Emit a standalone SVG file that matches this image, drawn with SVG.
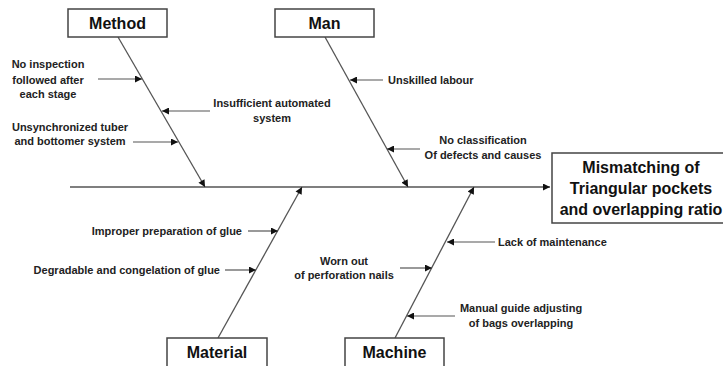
<svg xmlns="http://www.w3.org/2000/svg" width="723" height="366" viewBox="0 0 723 366">
<style>
.box{fill:#fff;stroke:#444;stroke-width:1.5}
.title{font-family:"Liberation Sans",Arial,sans-serif;font-weight:bold;font-size:16px;fill:#111;text-anchor:middle}
.effect{font-family:"Liberation Sans",Arial,sans-serif;font-weight:bold;font-size:16px;fill:#111;text-anchor:middle}
.lbl{font-family:"Liberation Sans",Arial,sans-serif;font-weight:bold;font-size:11px;fill:#222}
.c{text-anchor:middle}
.e{text-anchor:end}
.bone{stroke:#555;stroke-width:1.3;fill:none}
.arr{stroke:#555;stroke-width:1.2;fill:none}
</style>
<defs>
<marker id="ah" viewBox="0 0 10 10" refX="10" refY="5" markerWidth="8" markerHeight="7" orient="auto" markerUnits="userSpaceOnUse">
<path d="M0,0 L10,5 L0,10 z" fill="#111"/>
</marker>
</defs>
<rect width="723" height="366" fill="#fff"/>
<g id="connectors">
<line class="bone" x1="70" y1="187" x2="550" y2="187" marker-end="url(#ah)"/>
<line class="bone" x1="118" y1="37" x2="205" y2="187" marker-end="url(#ah)"/>
<line class="bone" x1="325" y1="37" x2="408" y2="187" marker-end="url(#ah)"/>
<line class="bone" x1="218" y1="338" x2="302" y2="187" marker-end="url(#ah)"/>
<line class="bone" x1="395" y1="338" x2="474" y2="187" marker-end="url(#ah)"/>
<line class="arr" x1="98" y1="79" x2="142" y2="79" marker-end="url(#ah)"/>
<line class="arr" x1="210" y1="111" x2="162" y2="111" marker-end="url(#ah)"/>
<line class="arr" x1="133" y1="142" x2="178" y2="142" marker-end="url(#ah)"/>
<line class="arr" x1="383" y1="80" x2="350" y2="80" marker-end="url(#ah)"/>
<line class="arr" x1="420" y1="149" x2="387" y2="149" marker-end="url(#ah)"/>
<line class="arr" x1="248" y1="231" x2="278" y2="231" marker-end="url(#ah)"/>
<line class="arr" x1="225" y1="270" x2="256" y2="270" marker-end="url(#ah)"/>
<line class="arr" x1="495" y1="242" x2="447" y2="242" marker-end="url(#ah)"/>
<line class="arr" x1="400" y1="268" x2="432" y2="268" marker-end="url(#ah)"/>
<line class="arr" x1="455" y1="316" x2="407" y2="316" marker-end="url(#ah)"/>
</g>
<g id="method">
<rect class="box" x="68" y="9" width="99" height="28"/>
<text class="title" x="117.5" y="28.5">Method</text>
</g>
<g id="man">
<rect class="box" x="275" y="9" width="99" height="28"/>
<text class="title" x="324.5" y="28.5">Man</text>
</g>
<g id="material">
<rect class="box" x="167" y="338" width="100" height="40"/>
<text class="title" x="217" y="357.5">Material</text>
</g>
<g id="machine">
<rect class="box" x="345" y="338" width="99" height="40"/>
<text class="title" x="394.5" y="357.5">Machine</text>
</g>
<g id="effect">
<rect class="box" x="552" y="153" width="190" height="70"/>
<text class="effect" x="641" y="173">Mismatching of</text>
<text class="effect" x="641" y="194">Triangular pockets</text>
<text class="effect" x="641" y="215">and overlapping ratio</text>
</g>
<g id="causes">
<text class="lbl c" x="48" y="68">No inspection</text>
<text class="lbl c" x="48" y="84">followed after</text>
<text class="lbl c" x="48" y="98">each stage</text>
<text class="lbl c" x="272" y="107">Insufficient automated</text>
<text class="lbl c" x="272" y="122">system</text>
<text class="lbl c" x="70" y="131">Unsynchronized tuber</text>
<text class="lbl c" x="70" y="145">and bottomer system</text>
<text class="lbl" x="388" y="84">Unskilled labour</text>
<text class="lbl c" x="483" y="144">No classification</text>
<text class="lbl c" x="483" y="159">Of defects and causes</text>
<text class="lbl e" x="242" y="235">Improper preparation of glue</text>
<text class="lbl e" x="220" y="274">Degradable and congelation of glue</text>
<text class="lbl" x="498" y="246">Lack of maintenance</text>
<text class="lbl c" x="344" y="265">Worn out</text>
<text class="lbl c" x="344" y="279">of perforation nails</text>
<text class="lbl c" x="521" y="312">Manual guide adjusting</text>
<text class="lbl c" x="521" y="327">of bags overlapping</text>
</g>
</svg>
